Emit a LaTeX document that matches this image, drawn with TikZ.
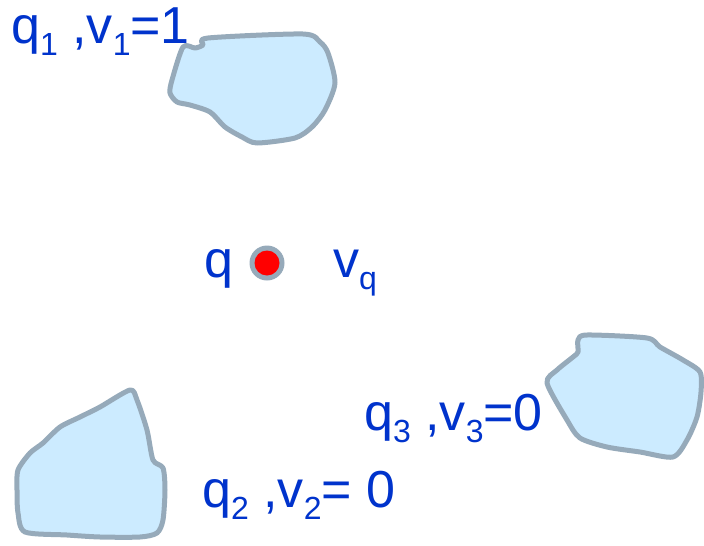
\documentclass[tikz,border=0pt]{standalone}
\usepackage{fontspec}
\setmainfont{Liberation Sans}
\usepackage{tikz}
\usetikzlibrary{positioning}
\definecolor{labelblue}{RGB}{0,51,204}
\definecolor{blobfill}{RGB}{204,235,255}
\definecolor{blobline}{RGB}{150,170,186}
\newcommand{\lowsub}[1]{\raisebox{-0.24em}{\fontsize{32}{32}\selectfont #1}}

\begin{document}
\begin{tikzpicture}[x=1pt, y=-1pt,
  every node/.style={font=\fontsize{52}{52}\selectfont, text=labelblue, inner sep=0pt, anchor=base west},
  blob/.style={draw=blobline, fill=blobfill, line width=5pt, line join=round}]
\useasboundingbox (0,0) rectangle (704,546);

% =================== obstacles ===================

% top obstacle, next to q_1
\draw[blob] plot[smooth cycle, tension=0.45] coordinates {
  (183,47) (195,48) (203,45) (208,38) (303,34) (320,42) (328,53) (335,83)
  (325,110) (312,127) (295,138) (257,143) (242,137) (225,127) (210,112)
  (190,105) (177,102) (170,93) (172,80)};

% bottom left obstacle, next to q_2
\draw[blob] plot[smooth cycle, tension=0.45] coordinates {
  (130,390) (137,400) (147,430) (153,460) (163,468) (165,490) (163,520)
  (157,533) (140,537) (100,537) (67,535) (25,532) (18,513) (17,490)
  (18,470) (30,453) (43,443) (60,427) (80,417) (100,407)};

% right obstacle, next to q_3
\draw[blob] plot[smooth cycle, tension=0.45] coordinates {
  (547,383) (557,370) (573,357) (578,352) (578,340) (587,335) (647,338)
  (660,347) (683,360) (700,372) (701,392) (697,417) (687,440) (673,457)
  (640,452) (607,447) (580,438) (567,420)};

% =================== query point ===================
\fill[blobline] (267,263) circle (17.5);
\fill[red] (267,263) circle (12.5);

% =================== labels ===================
\node (q)  at (204,277) {q};
\node (vq) at (333,277) {v\lowsub{q}};
\node (q1) at (11,43)   {q\lowsub{1} ,v\lowsub{1}=1};
\node (q3) at (364,430) {q\lowsub{3} ,v\lowsub{3}=0};
\node (q2) at (202,507) {q\lowsub{2} ,v\lowsub{2}= 0};

\end{tikzpicture}
\end{document}
